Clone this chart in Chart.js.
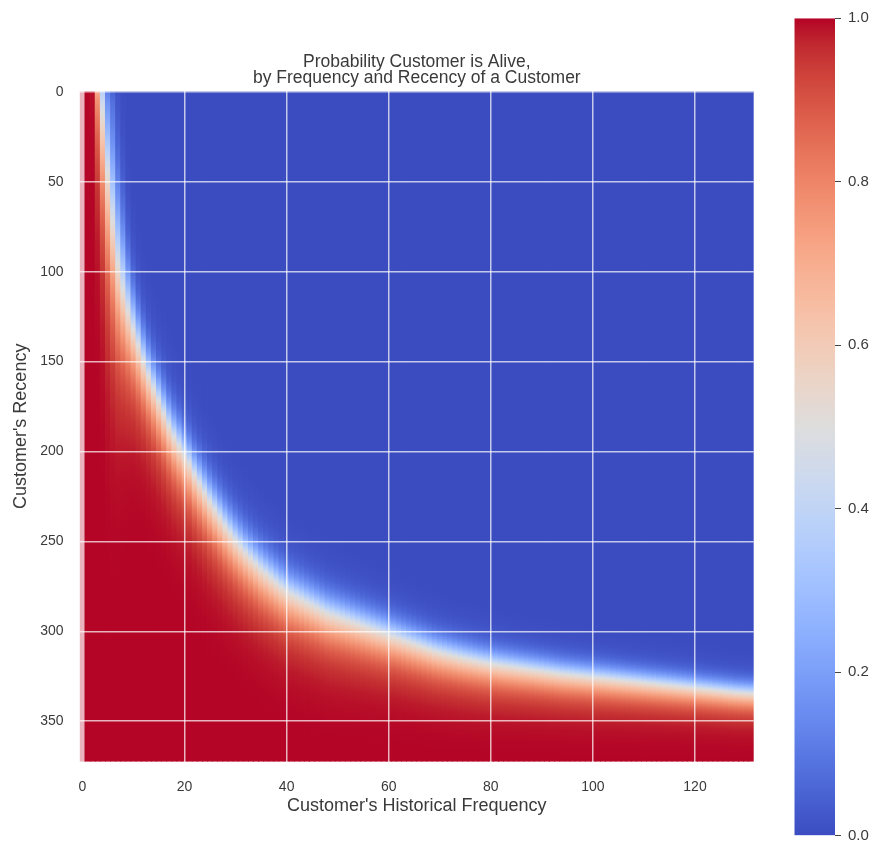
<!DOCTYPE html>
<html>
<head>
<meta charset="utf-8">
<script src="https://cdn.jsdelivr.net/npm/chart.js@4.4.1/dist/chart.umd.min.js"></script>
<style>
  body { margin: 0; background: #fff; }
  #wrap { position: relative; width: 874px; height: 846px; }
  #heat { position: absolute; left: 0; top: 0; }
  #bar { position: absolute; left: 760px; top: 0; }
</style>
</head>
<body>
<div id="wrap">
  <canvas id="heat" width="832" height="846"></canvas>
  <canvas id="bar" width="114" height="846"></canvas>
</div>
<script>
// Customer's historical frequency, one column per value
const frequencies = Array.from({ length: 132 }, (_, i) => i);

// recency where P(alive) = 0.5, read per column
const recencyMid = [
  -300, -300, -150, -30, 12, 45, 72, 96, 110, 122,
  132, 141, 150, 158, 165, 172, 179, 186, 192, 197,
  202, 207, 213, 218, 223, 228, 232.5, 237, 241.5, 245.5,
  249.5, 253, 256.5, 259.5, 262.5, 265.5, 268, 270.5, 273, 275.5,
  277.5, 279.5, 281, 282.5, 284, 285.5, 287, 288.5, 290, 291,
  292, 293, 294, 295, 296, 297, 298, 299, 300, 301,
  302, 303, 304, 305, 306, 307, 308, 309, 310, 311,
  311.8, 312.5, 313.2, 313.9, 314.6, 315.2, 315.8, 316.4, 317, 317.5,
  318, 318.5, 319, 319.4, 319.8, 320.2, 320.6, 321, 321.4, 321.8,
  322.2, 322.6, 323, 323.4, 323.8, 324.1, 324.4, 324.7, 325, 325.3,
  325.6, 325.9, 326.2, 326.5, 326.8, 327.1, 327.4, 327.7, 328, 328.3,
  328.6, 328.9, 329.2, 329.5, 329.8, 330.1, 330.4, 330.7, 331, 331.3,
  331.6, 331.9, 332.2, 332.5, 332.8, 333.1, 333.4, 333.7, 334, 334.2,
  334.4, 334.6
];

// distance (in recency) from the 0.5 point to the 0.03 point (blue side)
const widthBlue = [
  80, 80, 80, 90, 90, 85, 95, 83, 68, 52,
  42, 37, 34, 32.5, 31.5, 31, 30.5, 30, 29.5, 29,
  28.5, 28.3, 28.1, 27.9, 27.7, 27.5, 27.3, 27.1, 26.9, 26.7,
  26.5, 26.3, 26.1, 25.9, 25.7, 25.5, 25.3, 25.1, 24.9, 24.7,
  24.5, 24.3, 24.1, 23.9, 23.7, 23.5, 23.3, 23.1, 22.9, 22.7,
  22.5, 22.3, 22.1, 21.9, 21.7, 21.5, 21.3, 21.1, 20.9, 20.7,
  20.5, 20.3, 20.1, 19.9, 19.7, 19.5, 19.3, 19.1, 18.9, 18.7,
  18.5, 18.3, 18.2, 18, 17.9, 17.7, 17.6, 17.4, 17.3, 17.1,
  17, 16.9, 16.8, 16.7, 16.6, 16.5, 16.4, 16.3, 16.2, 16.1,
  16, 15.9, 15.8, 15.7, 15.6, 15.5, 15.4, 15.3, 15.2, 15.1,
  15, 14.9, 14.8, 14.8, 14.7, 14.6, 14.5, 14.4, 14.3, 14.3,
  14.2, 14.1, 14.1, 14, 14, 13.9, 13.9, 13.8, 13.8, 13.7,
  13.6, 13.6, 13.5, 13.5, 13.4, 13.4, 13.3, 13.3, 13.2, 13.2,
  13.1, 13.1
];

// distance from the 0.5 point to the 0.97 point (red side)
const widthRed = [
  100, 100, 100, 100, 105, 110, 102, 90, 78, 68,
  60, 56, 52, 50, 49, 48, 47, 46, 45.5, 45,
  44, 43.7, 43.4, 43.1, 42.8, 42.5, 42.2, 41.9, 41.6, 41.3,
  41, 40.7, 40.4, 40.1, 39.8, 39.5, 39.2, 38.9, 38.6, 38.3,
  38, 37.7, 37.4, 37.1, 36.8, 36.5, 36.2, 35.9, 35.6, 35.3,
  35, 34.6, 34.2, 33.8, 33.4, 33, 32.6, 32.2, 31.8, 31.4,
  31, 30.7, 30.4, 30.1, 29.8, 29.5, 29.2, 28.9, 28.6, 28.3,
  28, 27.8, 27.6, 27.4, 27.2, 27, 26.8, 26.6, 26.4, 26.2,
  26, 25.8, 25.6, 25.4, 25.2, 25, 24.8, 24.6, 24.4, 24.2,
  24, 23.85, 23.7, 23.55, 23.4, 23.25, 23.1, 22.95, 22.8, 22.65,
  22.5, 22.35, 22.2, 22.05, 21.9, 21.75, 21.6, 21.45, 21.3, 21.15,
  21, 20.85, 20.7, 20.55, 20.4, 20.25, 20.1, 19.95, 19.8, 19.65,
  19.5, 19.4, 19.3, 19.2, 19.1, 19, 18.9, 18.8, 18.7, 18.6,
  18.5, 18.4
];

const xTicks = [0, 20, 40, 60, 80, 100, 120];
const yTicks = [0, 50, 100, 150, 200, 250, 300, 350];
const barTicks = [0, 0.2, 0.4, 0.6, 0.8, 1.0];
const maxRecency = 372.5;

// matplotlib coolwarm, 33 samples
const coolwarm = [
  [59,76,192],[68,90,204],[77,104,215],[87,117,225],[98,130,234],[108,142,241],
  [119,154,247],[130,165,251],[141,176,254],[152,185,255],[163,194,255],[174,201,253],
  [184,208,249],[194,213,244],[204,217,238],[213,219,230],[221,221,221],[229,216,209],
  [236,211,197],[241,204,185],[245,196,173],[247,187,160],[247,177,148],[247,166,135],
  [244,154,123],[241,141,111],[236,127,99],[229,112,88],[222,96,77],[213,80,66],
  [203,62,56],[192,40,47],[180,4,38]
];

function cmap(p) {
  const t = Math.min(Math.max(p, 0), 1) * 32;
  const i = Math.min(Math.floor(t), 31);
  const f = t - i;
  const a = coolwarm[i], b = coolwarm[i + 1];
  return 'rgb(' + a.map((v, k) => Math.round(v + (b[k] - v) * f)).join(',') + ')';
}

const pStops = [0.001, 0.003, 0.01, 0.02, 0.03, 0.05, 0.08, 0.12, 0.17, 0.23, 0.3, 0.37, 0.44,
  0.5, 0.56, 0.63, 0.7, 0.77, 0.83, 0.88, 0.92, 0.95, 0.97, 0.98, 0.99, 0.997, 0.999];
const L97 = Math.log(0.97 / 0.03);

// vertical gradient for one frequency column
function columnFill(c) {
  const chart = c.chart;
  if (!chart.chartArea || c.dataIndex === undefined) return cmap(0);
  const y = chart.scales.y;
  const top = y.getPixelForValue(-0.5);
  const bottom = y.getPixelForValue(maxRecency);
  const i = c.dataIndex;
  const g = chart.ctx.createLinearGradient(0, top, 0, bottom);
  pStops.forEach(p => {
    const lg = Math.log(p / (1 - p)) / L97;
    const rec = recencyMid[i] + lg * (p < 0.5 ? widthBlue[i] : widthRed[i]);
    const off = (y.getPixelForValue(rec) - top) / (bottom - top);
    g.addColorStop(Math.min(Math.max(off, 0), 1), cmap(p));
  });
  return g;
}

function barFill(c) {
  const chart = c.chart;
  if (!chart.chartArea) return cmap(0.5);
  const y = chart.scales.y;
  const g = chart.ctx.createLinearGradient(0, y.getPixelForValue(0), 0, y.getPixelForValue(1));
  coolwarm.forEach((_, k) => g.addColorStop(k / 32, cmap(k / 32)));
  return g;
}

const font = "'Liberation Sans', Arial, sans-serif";
const textColor = '#3a3a3a';
const gridColor = 'rgba(255,255,255,0.7)';

new Chart(document.getElementById('heat'), {
  type: 'bar',
  data: {
    datasets: [{
      xAxisID: 'x',
      yAxisID: 'y',
      data: frequencies.map(f => ({ x: f, y: [-0.5, maxRecency] })),
      backgroundColor: columnFill,
      borderWidth: 0,
      barThickness: 6,
      inflateAmount: 0
    }]
  },
  options: {
    responsive: false,
    animation: false,
    devicePixelRatio: 1,
    layout: { padding: { left: 0, right: 78.3, top: 0, bottom: 0 } },
    plugins: {
      legend: { display: false },
      tooltip: { enabled: false }
    },
    scales: {
      x: {
        type: 'linear',
        min: -0.5,
        max: 131.5,
        offset: false,
        afterBuildTicks: a => { a.ticks = xTicks.map(v => ({ value: v })); },
        afterFit: a => { a.height = 84.3; },
        grid: {
          offset: false,
          z: 1,
          color: gridColor,
          lineWidth: c => (c.tick && c.tick.value === 0 ? 4.5 : 1.5),
          drawTicks: false
        },
        border: { display: false },
        ticks: { color: textColor, font: { family: font, size: 14 }, padding: 16.6, maxRotation: 0 },
        title: {
          display: true,
          text: "Customer's Historical Frequency",
          color: textColor,
          font: { family: font, size: 18 },
          padding: { top: 0, bottom: 29.2 }
        }
      },
      y: {
        type: 'linear',
        reverse: true,
        min: -0.5,
        max: maxRecency,
        afterBuildTicks: a => { a.ticks = yTicks.map(v => ({ value: v })); },
        afterFit: a => { a.width = 79.9; },
        grid: { z: 1, color: gridColor, lineWidth: 1.5, drawTicks: false },
        border: { display: false },
        ticks: { color: textColor, font: { family: font, size: 14 }, padding: 16.4 },
        title: {
          display: true,
          text: "Customer's Recency",
          color: textColor,
          font: { family: font, size: 18 },
          padding: { top: 10.7, bottom: 0 }
        }
      },
      // top axis only carries the title, so it is centred over the plot
      top: {
        type: 'linear',
        position: 'top',
        min: 0,
        max: 1,
        afterFit: a => { a.height = 91; },
        grid: { display: false, drawTicks: false },
        border: { display: false },
        ticks: { display: false },
        title: {
          display: true,
          text: ['Probability Customer is Alive,', 'by Frequency and Recency of a Customer'],
          color: textColor,
          font: { family: font, size: 17.5, lineHeight: '16.6px' },
          padding: { top: 53.4, bottom: 0 }
        }
      }
    }
  }
});

new Chart(document.getElementById('bar'), {
  type: 'bar',
  data: {
    labels: [''],
    datasets: [{
      data: [[0, 1]],
      backgroundColor: barFill,
      borderWidth: 0,
      barPercentage: 1,
      categoryPercentage: 1,
      inflateAmount: 0
    }]
  },
  options: {
    responsive: false,
    animation: false,
    devicePixelRatio: 1,
    layout: { padding: { left: 34.3, right: 0, top: 18.3, bottom: 10.3 } },
    plugins: { legend: { display: false }, tooltip: { enabled: false } },
    scales: {
      x: { display: false },
      y: {
        position: 'right',
        min: 0,
        max: 1,
        afterBuildTicks: a => { a.ticks = barTicks.map(v => ({ value: v })); },
        afterFit: a => {
          a.width = 39;
          a.paddingTop = 0;
          a.paddingBottom = 0;
        },
        grid: { drawOnChartArea: false, drawTicks: true, tickLength: 6, color: '#444', lineWidth: 1 },
        border: { display: false },
        ticks: {
          color: textColor,
          font: { family: font, size: 15 },
          padding: 7,
          callback: v => v.toFixed(1)
        }
      }
    }
  }
});
</script>
</body>
</html>
